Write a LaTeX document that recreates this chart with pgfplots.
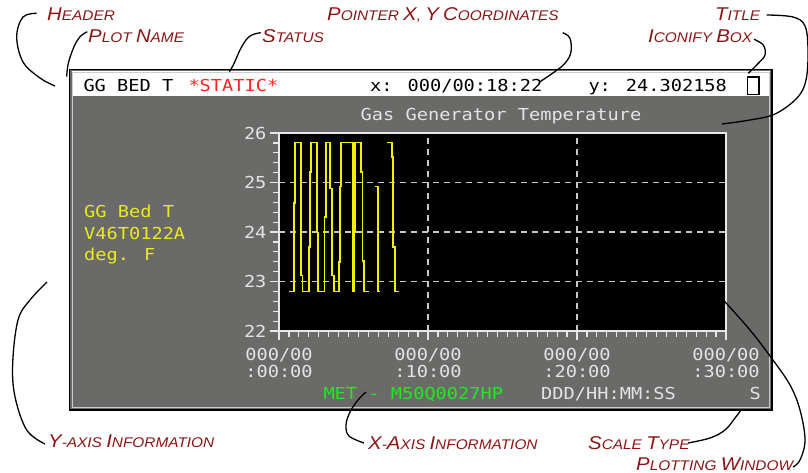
\documentclass[border=0pt]{standalone}
\usepackage{pgfplots}
\pgfplotsset{compat=1.18}
\usepackage{fontspec}
\setmainfont{Liberation Sans}
\newfontfamily\guifont[FakeStretch=1.13]{DejaVu Sans Mono}
\newfontfamily\annfont[FakeStretch=1.1]{Liberation Sans}
\definecolor{anncolor}{RGB}{139,21,21}
\definecolor{statusred}{RGB}{255,35,35}
\definecolor{traceyellow}{RGB}{240,240,0}
\definecolor{ylabyellow}{RGB}{235,235,25}
\definecolor{metgreen}{RGB}{30,235,30}
\definecolor{labgray}{RGB}{228,228,228}
\definecolor{gridgray}{RGB}{200,200,200}
\definecolor{tickgray}{RGB}{232,232,232}
\definecolor{panelgray}{RGB}{106,106,104}
\definecolor{bevel}{RGB}{205,205,205}
\newcommand\an[2]{{\fontsize{18.5}{18.5}\selectfont #1}{\fontsize{14}{14}\selectfont #2}}
\newcommand\gui{\guifont\fontsize{16.5}{16.6}\selectfont}
\begin{document}
\begin{tikzpicture}[x=1pt,y=1pt]
\path[use as bounding box] (0,0) rectangle (808,-473);
% window
\fill[panelgray] (70,-70) rectangle (771.5,-409.5);
\fill[white] (71.5,-71.5) rectangle (770,-96.5);
\draw[bevel, line width=1pt] (72.5,-72.5) rectangle (769,-407.5);
\draw[black, line width=1.5pt] (69.5,-69.5) rectangle (772,-410);
\draw[black, line width=1.2pt, fill=white] (747.5,-77) rectangle (759,-94.5);
% header texts
\node[anchor=base west, inner sep=0, font=\gui, text=black] at (83.3,-91.7) {GG BED T};
\node[anchor=base west, inner sep=0, font=\gui, text=statusred] at (188.3,-91.7) {*STATIC*};
\node[anchor=base west, inner sep=0, font=\gui, text=black] at (370,-91.7) {x: 000/00:18:22};
\node[anchor=base west, inner sep=0, font=\gui, text=black] at (588.3,-91.7) {y: 24.302158};
% title
\node[anchor=base, inner sep=0, font=\gui, text=labgray] at (501,-120.5) {Gas Generator Temperature};
% y info
\node[anchor=base west, inner sep=0, font=\gui, text=ylabyellow] at (84,-217.3) {GG Bed T};
\node[anchor=base west, inner sep=0, font=\gui, text=ylabyellow] at (84,-239.5) {V46T0122A};
\node[anchor=base west, inner sep=0, font=\gui, text=ylabyellow] at (84,-260.5) {deg. F};
% x info
\node[anchor=base west, inner sep=0, font=\gui, text=metgreen] at (323.3,-399) {MET - M50Q0027HP};
\node[anchor=base west, inner sep=0, font=\gui, text=labgray] at (541,-399) {DDD/HH:MM:SS};
\node[anchor=base west, inner sep=0, font=\gui, text=labgray] at (749.5,-399) {S};

\begin{axis}[
  at={(279pt,-331pt)}, anchor=south west,
  scale only axis, width=447pt, height=198pt,
  xmin=0, xmax=30, ymin=22, ymax=26,
  axis background/.style={fill=black},
  axis line style={draw=tickgray, line width=1.2pt},
  xtick={0,10,20,30}, ytick={22,23,24,25,26},
  xticklabels={{000/00\\:00:00},{000/00\\:10:00},{000/00\\:20:00},{000/00\\:30:00}},
  minor x tick num=14, minor y tick num=4,
  tick align=outside, tick pos=left,
  major tick length=9pt, minor tick length=6pt,
  every tick/.style={draw=tickgray, line width=1.2pt},
  grid=major,
  major grid style={color=gridgray, line width=1.2pt, dash pattern=on 6pt off 5pt},
  /pgf/number format/assume math mode=true,
  ticklabel style={font=\gui, text=labgray},
  xticklabel style={align=center, yshift=-5pt},
]
\addplot[draw=traceyellow, line width=1.8pt, mark=none] coordinates {
(0.69,22.8) (1.01,22.8) (1.01,24.59) (1.10,24.59) (1.10,25.81) (1.45,25.81) (1.45,23.12) (1.58,23.12) (1.58,22.8) (1.99,22.8)
(1.99,23.70) (2.08,23.70) (2.08,25.21) (2.17,25.21) (2.17,25.81) (2.55,25.81) (2.55,23.99) (2.63,23.99) (2.63,22.8) (3.05,22.8)
(3.05,24.31) (3.14,24.31) (3.14,25.81) (3.42,25.81) (3.42,24.88) (3.56,24.88) (3.56,23.12) (3.69,23.12) (3.69,22.8) (4.02,22.8)
(4.02,23.40) (4.09,23.40) (4.09,24.92) (4.18,24.92) (4.18,25.81) (4.97,25.81) (4.97,22.8) (5.04,22.8) (5.04,24.0) (5.12,24.0) (5.12,25.81)
(5.48,25.81) (5.48,25.21) (5.60,25.21) (5.60,23.42) (5.70,23.42) (5.70,22.8) (6.04,22.8)
};
\addplot[draw=traceyellow, line width=1.8pt, mark=none] coordinates {
(6.47,24.92) (6.62,24.92) (6.62,22.8) (6.78,22.8)
};
\addplot[draw=traceyellow, line width=1.8pt, mark=none] coordinates {
(7.27,25.81) (7.56,25.81) (7.56,25.52) (7.67,25.52) (7.67,23.70) (7.76,23.70) (7.76,22.8) (8.07,22.8)
};
\end{axis}

% annotations
\begin{scope}[every node/.style={anchor=base west, inner sep=0, text=anncolor, font=\annfont\itshape}]
\node at (47,-21) {\an{H}{EADER}};
\node at (88,-43) {\an{P}{LOT }\an{N}{AME}};
\node at (262,-43) {\an{S}{TATUS}};
\node at (327,-21) {\an{P}{OINTER }\an{X}{, }\an{Y}{ }\an{C}{OORDINATES}};
\node at (715,-21) {\an{T}{ITLE}};
\node at (648,-43) {\an{I}{CONIFY }\an{B}{OX}};
\node at (48,-447) {\an{Y}{-AXIS }\an{I}{NFORMATION}};
\node at (368,-449) {\an{X}{-}\an{A}{XIS }\an{I}{NFORMATION}};
\node at (588,-449) {\an{S}{CALE }\an{T}{YPE}};
\node at (636,-470) {\an{P}{LOTTING }\an{W}{INDOW}};
\end{scope}
\begin{scope}[black, line width=1.3pt]
\draw plot[smooth, tension=0.6] coordinates {(36.7,-13.3) (23,-17) (16.7,-36.7) (23,-62) (40,-78) (55,-86)};
\draw plot[smooth, tension=0.6] coordinates {(87.3,-31.7) (80,-36.7) (74,-46.7) (68.3,-63.3) (66.7,-76.7)};
\draw plot[smooth, tension=0.6] coordinates {(260.7,-32.7) (250,-36) (241.7,-46.7) (233.3,-65) (229.3,-71.7)};
\draw plot[smooth, tension=0.6] coordinates {(562.7,-32.7) (570,-38.3) (570.7,-53.3) (563.3,-65) (550,-75) (540,-81.7)};
\draw plot[smooth, tension=0.6] coordinates {(766.7,-15) (793,-17) (805,-26) (808,-50) (806,-80) (797,-98) (775,-114) (750,-120) (722,-124)};
\draw plot[smooth, tension=0.6] coordinates {(754,-39.3) (763.3,-45) (765,-55) (758.3,-63.3) (748.3,-73.3)};
\draw plot[smooth, tension=0.6] coordinates {(47,-282) (30,-300) (18,-320) (12.7,-363) (15,-396.7) (26.7,-430) (45,-444)};
\draw plot[smooth, tension=0.6] coordinates {(366,-392) (358,-400) (350,-412) (346,-425) (349,-436) (364,-443)};
\draw plot[smooth, tension=0.6] coordinates {(688,-443) (710,-438) (725,-430) (735,-418) (741,-410)};
\draw plot[smooth, tension=0.6] coordinates {(723.3,-300) (750,-330) (771.7,-358.3) (790,-385) (800,-410) (805,-440) (800,-460) (793,-467)};
\end{scope}
\end{tikzpicture}
\end{document}
